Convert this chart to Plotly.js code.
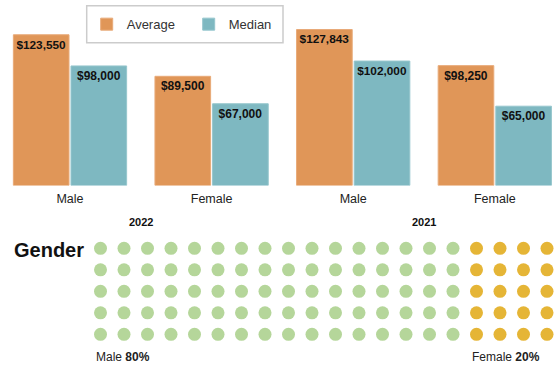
<!DOCTYPE html>
<html>
<head>
<meta charset="utf-8">
<script src="https://cdn.plot.ly/plotly-3.0.1.min.js"></script>
<style>html,body{margin:0;padding:0;background:#fff;}#chart{width:558px;height:369px;}</style>
</head>
<body>
<div id="chart"></div>
<script>
// ---- data ----
var categories = ['Male', 'Female', 'Male', 'Female'];
var years = ['2022', '2021'];
var averageSalary = [123550, 89500, 127843, 98250];
var medianSalary = [98000, 67000, 102000, 65000];
var genderLabels = ['Male', 'Female'];
var genderPct = [80, 20];

// ---- layout helpers ----
var W = 558, H = 369;
var FONT = 'Liberation Sans, Arial, Helvetica, sans-serif';
var catIdx = categories.map(function (_, i) { return i; });

// waffle grid: 5 rows x 20 columns, filled column by column
var rows = 5, cols = 20;
var maleDots = Math.round(genderPct[0] / 100 * rows * cols);
var mX = [], mY = [], fX = [], fY = [];
for (var c = 0; c < cols; c++) {
  for (var r = 0; r < rows; r++) {
    var k = c * rows + r;
    if (k < maleDots) { mX.push(c); mY.push(r); } else { fX.push(c); fY.push(r); }
  }
}
var femaleStartCol = maleDots / rows;

var barText = {family: FONT, size: 12, color: '#111', weight: 'bold'};

var traces = [
  {
    type: 'bar', name: 'Average', x: catIdx, y: averageSalary,
    width: 0.393, offset: -0.400,
    marker: {color: '#E09658', line: {color: '#E8AA78', width: 1}},
    texttemplate: '<b>$%{y:,.0f}</b>', textposition: 'inside', insidetextanchor: 'end',
    textangle: 0, textfont: barText, hoverinfo: 'skip', xaxis: 'x', yaxis: 'y'
  },
  {
    type: 'bar', name: 'Median', x: catIdx, y: medianSalary,
    width: 0.393, offset: 0.007,
    marker: {color: '#7EB8C1', line: {color: '#96C6CD', width: 1}},
    texttemplate: '<b>$%{y:,.0f}</b>', textposition: 'inside', insidetextanchor: 'end',
    textangle: 0, textfont: barText, hoverinfo: 'skip', xaxis: 'x', yaxis: 'y'
  },
  {
    type: 'scatter', mode: 'markers', x: mX, y: mY, showlegend: false,
    marker: {color: '#B5D69A', size: 13, line: {width: 0}}, hoverinfo: 'skip',
    xaxis: 'x2', yaxis: 'y2'
  },
  {
    type: 'scatter', mode: 'markers', x: fX, y: fY, showlegend: false,
    marker: {color: '#E5B536', size: 13, line: {width: 0}}, hoverinfo: 'skip',
    xaxis: 'x2', yaxis: 'y2'
  }
];

// bar subplot: x center 0 at 70px, 141.6px per category; y zero at 185.5px
var pxPerCat = 141.6, x0px = 70;
var barBottomPx = 185.5;
var yMax = barBottomPx / 0.00122;

// waffle subplot (domain 236..347 px)
var wTop = 236, wBot = 347, col0 = 100.5, colStep = 23.5, row0 = 248.3, rowStep = 21.5;

var annotations = [
  {text: '<b>' + years[0] + '</b>', x: 0.5, xref: 'x', y: 1 - 222 / H, yref: 'paper', yanchor: 'middle',
   showarrow: false, font: {family: FONT, size: 11, color: '#111'}},
  {text: '<b>' + years[1] + '</b>', x: 2.5, xref: 'x', y: 1 - 222 / H, yref: 'paper', yanchor: 'middle',
   showarrow: false, font: {family: FONT, size: 11, color: '#111'}},
  {text: '<b>Gender</b>', x: 12 / W, xref: 'paper', xanchor: 'left', y: 1 - 250 / H, yref: 'paper',
   yanchor: 'middle', showarrow: false, font: {family: FONT, size: 20, color: '#111'}},
  {text: genderLabels[0] + ' <b>' + genderPct[0] + '%</b>', x: -0.27, xref: 'x2', xanchor: 'left',
   y: 1 - 356.5 / H, yref: 'paper', yanchor: 'middle', showarrow: false,
   font: {family: FONT, size: 12, color: '#222'}},
  {text: genderLabels[1] + ' <b>' + genderPct[1] + '%</b>', x: femaleStartCol - 0.27, xref: 'x2', xanchor: 'left',
   y: 1 - 356.5 / H, yref: 'paper', yanchor: 'middle', showarrow: false,
   font: {family: FONT, size: 12, color: '#222'}}
];

var layout = {
  width: W, height: H,
  margin: {l: 0, r: 0, t: 0, b: 0},
  paper_bgcolor: '#fff', plot_bgcolor: 'rgba(0,0,0,0)',
  font: {family: FONT, color: '#222'},
  barmode: 'group',
  showlegend: true,
  legend: {
    orientation: 'h', x: 86.7 / W, xanchor: 'left', y: 1 - 24.2 / H, yanchor: 'middle',
    bgcolor: 'rgba(0,0,0,0)', borderwidth: 0, entrywidth: 57, entrywidthmode: 'pixels',
    font: {family: FONT, size: 13, color: '#333'}
  },
  shapes: [
    {type: 'rect', xref: 'paper', yref: 'paper',
     x0: 86.7 / W, x1: 283 / W, y0: 1 - 42.7 / H, y1: 1 - 5.7 / H,
     line: {color: '#CCCCCC', width: 1.5}, fillcolor: 'rgba(0,0,0,0)'}
  ],
  xaxis: {
    domain: [0, 1], range: [-x0px / pxPerCat, (W - x0px) / pxPerCat],
    tickvals: catIdx, ticktext: categories, showgrid: false, zeroline: false,
    showline: false, ticks: '', ticklabelstandoff: 4,
    tickfont: {family: FONT, size: 12.5, color: '#222'},
    fixedrange: true
  },
  yaxis: {
    domain: [1 - barBottomPx / H, 1], range: [0, yMax], visible: false, fixedrange: true
  },
  xaxis2: {
    domain: [0, 1], range: [-col0 / colStep, (W - col0) / colStep], visible: false,
    anchor: 'y2', fixedrange: true
  },
  yaxis2: {
    domain: [1 - wBot / H, 1 - wTop / H],
    range: [(wBot - row0) / rowStep, -(row0 - wTop) / rowStep],
    visible: false, anchor: 'x2', fixedrange: true
  },
  annotations: annotations
};

Plotly.newPlot('chart', traces, layout, {displayModeBar: false, staticPlot: true});
</script>
</body>
</html>
